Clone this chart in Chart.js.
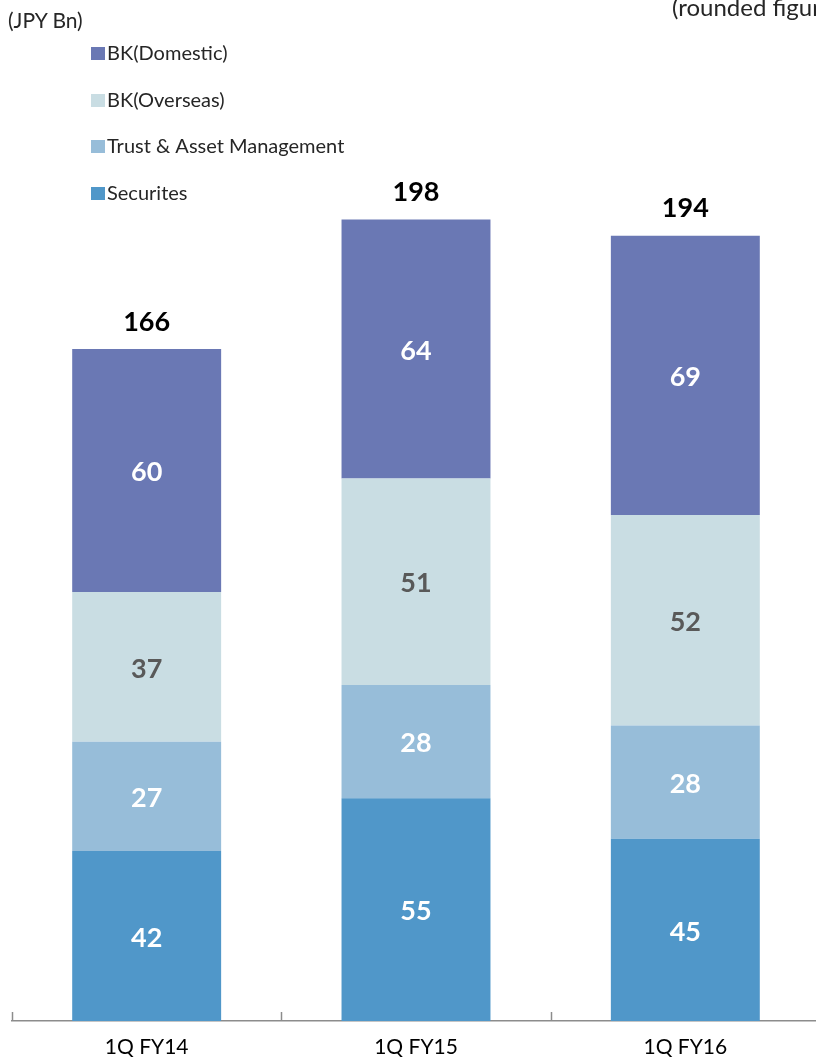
<!DOCTYPE html>
<html>
<head>
<meta charset="utf-8">
<script src="https://cdn.jsdelivr.net/npm/chart.js@4.4.0/dist/chart.umd.min.js"></script>
<style>
  html, body { margin: 0; padding: 0; background: #fff; overflow: hidden; }
  #wrap { position: relative; width: 816px; height: 1062px; overflow: hidden; }
  #box { position: absolute; left: 0; top: 0; width: 830px; height: 1062px; }
  .note { position: absolute; font-family: Lato, "Open Sans", sans-serif; font-size: 21px; line-height: 24px; color: #262626; white-space: nowrap; }
</style>
</head>
<body>
<div id="wrap">
  <div id="box"><canvas id="barQuarter"></canvas></div>
  <div class="note" style="left:8px; top:8px;">(JPY Bn)</div>
  <div class="note" style="left:672px; top:-7px; font-size:24px; line-height:28px;">(rounded figures)</div>
</div>
<script>
var quarters = ['1Q FY14', '1Q FY15', '1Q FY16'];
var securites = [42, 55, 45];
var trustAsset = [27, 28, 28];
var bkOverseas = [37, 51, 52];
var bkDomestic = [60, 64, 69];
var totals = [166, 198, 194];

var fontName = 'Lato, "Open Sans", sans-serif';

// value inside every segment + total on top
var labelPlugin = {
  id: 'labelPlugin',
  afterDatasetsDraw: function (chart) {
    var ctx = chart.ctx;
    ctx.save();
    ctx.textAlign = 'center';
    ctx.textBaseline = 'middle';
    ctx.font = 'bold 27px ' + fontName;
    chart.data.datasets.forEach(function (ds, i) {
      var meta = chart.getDatasetMeta(i);
      meta.data.forEach(function (bar, j) {
        ctx.fillStyle = ds.labelColor;
        ctx.fillText(ds.data[j], bar.x, (bar.y + bar.base) / 2 + 2);
      });
    });
    var top = chart.getDatasetMeta(chart.data.datasets.length - 1);
    ctx.fillStyle = '#000';
    top.data.forEach(function (bar, j) {
      ctx.fillText(totals[j], bar.x, bar.y - 27);
    });
    ctx.restore();
  }
};

// legend list top-left, domestic first
var legendPlugin = {
  id: 'legendPlugin',
  afterDraw: function (chart) {
    var ctx = chart.ctx;
    var rows = [53, 100, 146, 193];
    var list = chart.data.datasets.slice().reverse();
    ctx.save();
    ctx.font = '20px ' + fontName;
    ctx.textBaseline = 'middle';
    ctx.textAlign = 'left';
    list.forEach(function (ds, k) {
      ctx.fillStyle = ds.backgroundColor;
      ctx.fillRect(91, rows[k] - 6, 14, 13);
      ctx.fillStyle = '#262626';
      ctx.fillText(ds.label, 107, rows[k] + 1);
    });
    ctx.restore();
  }
};

// short tick marks standing up from the axis at category edges
var tickPlugin = {
  id: 'tickPlugin',
  afterDraw: function (chart) {
    var x = chart.scales.x;
    var ctx = chart.ctx;
    var step = (x.right - x.left) / quarters.length;
    ctx.save();
    ctx.strokeStyle = '#8c8c8c';
    ctx.lineWidth = 1.5;
    for (var i = 0; i <= quarters.length; i++) {
      var px = Math.round(x.left + step * i) + 0.5;
      ctx.beginPath();
      ctx.moveTo(px, x.top - 9);
      ctx.lineTo(px, x.top);
      ctx.stroke();
    }
    ctx.restore();
  }
};

new Chart(document.getElementById('barQuarter'), {
  type: 'bar',
  data: {
    labels: quarters,
    datasets: [
      { label: 'Securites', data: securites, backgroundColor: '#5097c9', labelColor: '#ffffff' },
      { label: 'Trust & Asset Management', data: trustAsset, backgroundColor: '#97bdd9', labelColor: '#ffffff' },
      { label: 'BK(Overseas)', data: bkOverseas, backgroundColor: '#c9dde3', labelColor: '#595959' },
      { label: 'BK(Domestic)', data: bkDomestic, backgroundColor: '#6a78b4', labelColor: '#ffffff' }
    ]
  },
  options: {
    responsive: true,
    maintainAspectRatio: false,
    animation: false,
    layout: { padding: { left: 12, right: 10, top: 9, bottom: 0 } },
    datasets: { bar: { categoryPercentage: 1, barPercentage: 0.553, borderWidth: 0 } },
    plugins: { legend: { display: false }, tooltip: { enabled: false } },
    scales: {
      x: {
        stacked: true,
        grid: { display: false, drawTicks: false },
        border: { display: true, color: '#8c8c8c', width: 1.5 },
        ticks: { color: '#000', padding: 14, font: { family: fontName, size: 21 } },
        afterFit: function (scale) { scale.height = 41; }
      },
      y: {
        stacked: true,
        display: false,
        min: 0,
        max: 250
      }
    }
  },
  plugins: [labelPlugin, legendPlugin, tickPlugin]
});
</script>
</body>
</html>
